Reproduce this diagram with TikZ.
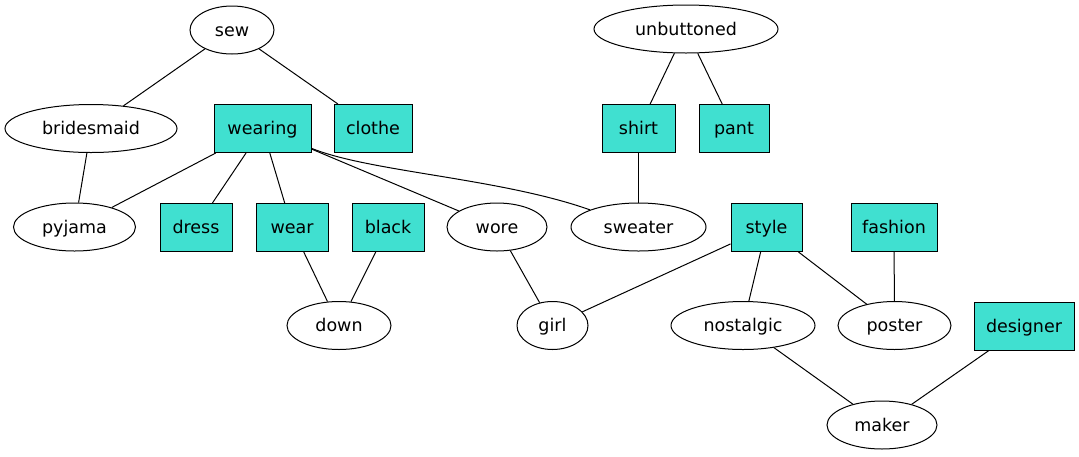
\documentclass[tikz,border=0pt]{standalone}
\usepackage{fontspec}
\setmainfont{DejaVu Sans}
\usepackage{tikz}
\usetikzlibrary{shapes}
\definecolor{turq}{RGB}{64,224,208}
\tikzset{
  word/.style={shape=ellipse, draw, line width=1pt, fill=white, inner sep=0pt, minimum height=48pt, text height=16pt, text depth=4pt},
  tagbox/.style={shape=rectangle, draw, line width=1pt, fill=turq, inner sep=0pt, minimum height=48pt, text height=16pt, text depth=4pt},
  link/.style={line width=1pt}
}

\begin{document}
\begin{tikzpicture}[x=1pt,y=-1pt,font=\fontsize{17.5}{20}\selectfont]
\useasboundingbox (0,0) rectangle (1079,456);
% row 1
\node[word, minimum width=84pt] (sew) at (232,30) {sew};
\node[word, minimum width=184pt] (unbuttoned) at (686,29) {unbuttoned};
% row 2
\node[word, minimum width=172pt] (bridesmaid) at (91,128.5) {bridesmaid};
\node[tagbox, minimum width=97pt] (wearing) at (262.5,128.5) {wearing};
\node[tagbox, minimum width=78pt] (clothe) at (373,128.5) {clothe};
\node[tagbox, minimum width=73pt] (shirt) at (638.5,128.5) {shirt};
\node[tagbox, minimum width=70pt] (pant) at (734,128.5) {pant};
% row 3
\node[word, minimum width=122pt] (pyjama) at (74.5,227) {pyjama};
\node[tagbox, minimum width=72pt] (dress) at (196,227.5) {dress};
\node[tagbox, minimum width=72pt] (wear) at (292,227.5) {wear};
\node[tagbox, minimum width=72pt] (black) at (388,227.5) {black};
\node[word, minimum width=100pt] (wore) at (497,227) {wore};
\node[word, minimum width=135pt] (sweater) at (638.5,227) {sweater};
\node[tagbox, minimum width=71pt] (style) at (766.5,227.5) {style};
\node[tagbox, minimum width=86pt] (fashion) at (894,227.5) {fashion};
% row 4
\node[word, minimum width=104pt] (down) at (339,325.5) {down};
\node[word, minimum width=71pt] (girl) at (552.5,325.5) {girl};
\node[word, minimum width=144pt] (nostalgic) at (743,325.5) {nostalgic};
\node[word, minimum width=113pt] (poster) at (894.5,325.5) {poster};
\node[tagbox, minimum width=100pt] (designer) at (1024,326) {designer};
% row 5
\node[word, minimum width=110pt] (maker) at (882,425) {maker};
% edges
\draw[link] (sew) -- (bridesmaid);
\draw[link] (sew) -- (clothe);
\draw[link] (unbuttoned) -- (shirt);
\draw[link] (unbuttoned) -- (pant);
\draw[link] (bridesmaid) -- (pyjama);
\draw[link] (wearing) -- (pyjama);
\draw[link] (wearing) -- (dress);
\draw[link] (wearing) -- (wear);
\draw[link] (wearing) -- (wore);
\draw[link] (wearing) .. controls (370,172) and (500,178) .. (sweater);
\draw[link] (shirt) -- (sweater);
\draw[link] (wear) -- (down);
\draw[link] (black) -- (down);
\draw[link] (wore) -- (girl);
\draw[link] (style) -- (girl);
\draw[link] (style) -- (nostalgic);
\draw[link] (style) -- (poster);
\draw[link] (fashion) -- (poster);
\draw[link] (nostalgic) -- (maker);
\draw[link] (designer) -- (maker);
\end{tikzpicture}
\end{document}
